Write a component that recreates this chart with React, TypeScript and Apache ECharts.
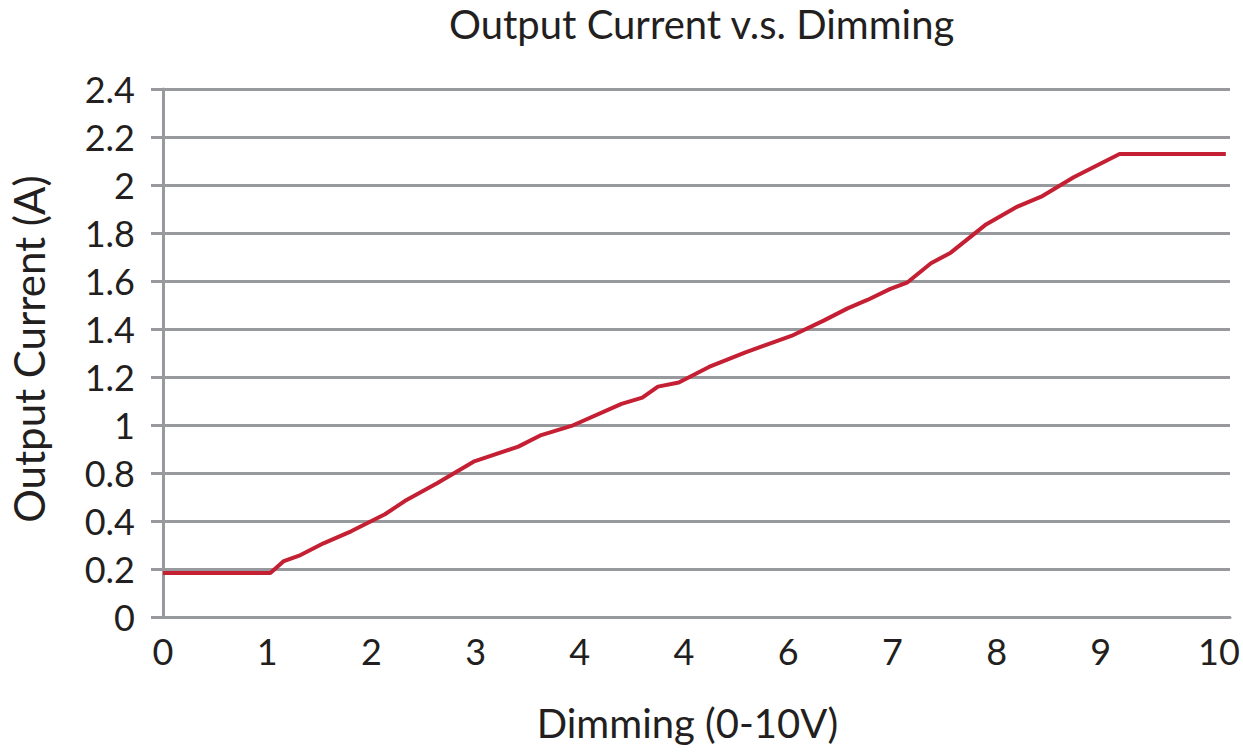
import React, { useEffect, useRef } from "react";
import * as echarts from "echarts";

const titleText = "Output Current v.s. Dimming";
const xAxisTitle = "Dimming (0-10V)";
const yAxisTitle = "Output Current (A)";

// tick labels exactly as printed on the reference
const xTickLabels = ["0", "1", "2", "3", "4", "4", "6", "7", "8", "9", "10"];
const yTickLabels = ["0", "0.2", "0.4", "0.8", "1", "1.2", "1.4", "1.6", "1.8", "2", "2.2", "2.4"];

// dimming voltage (V)
const dimmingV = [
  0, 1.03, 1.16, 1.32, 1.54, 1.81, 2.13, 2.32, 2.63, 2.98, 3.41, 3.63, 3.92,
  4.4, 4.6, 4.75, 4.95, 5.24, 5.59, 6.03, 6.34, 6.57, 6.76, 6.98, 7.14, 7.37,
  7.56, 7.89, 8.2, 8.44, 8.74, 9.18, 10.2,
];
// output current (A)
const currentA = [
  0.383, 0.383, 0.433, 0.458, 0.507, 0.558, 0.628, 0.683, 0.757, 0.847, 0.91,
  0.958, 0.996, 1.088, 1.114, 1.16, 1.177, 1.242, 1.303, 1.371, 1.435, 1.486,
  1.521, 1.567, 1.593, 1.674, 1.718, 1.833, 1.91, 1.954, 2.032, 2.129, 2.129,
];

const GRAY = "#98999d";
const RED = "#c41f33";
const TEXT = "#231f20";
const FONT = "Lato";
const W = 400;

export default function App() {
  const ref = useRef<HTMLDivElement>(null);
  useEffect(() => {
    document.body.style.margin = "0";
    if (!ref.current) return;
    const chart = echarts.init(ref.current, null, { renderer: "svg" });
    chart.setOption({
      animation: false,
      backgroundColor: "#ffffff",
      title: {
        text: titleText,
        left: 449,
        top: 4,
        padding: 0,
        textStyle: { fontFamily: FONT, fontSize: 40, fontWeight: W, color: TEXT },
      },
      grid: { left: 161, top: 89, width: 1069, height: 528, containLabel: false },
      xAxis: {
        type: "value",
        min: 0,
        max: 10.24,
        interval: 1,
        name: xAxisTitle,
        nameLocation: "middle",
        nameGap: 86,
        nameTextStyle: { fontFamily: FONT, fontSize: 40, fontWeight: W, color: TEXT, padding: [0, 18, 0, 0] },
        axisLine: { show: true, lineStyle: { color: GRAY, width: 3 } },
        axisTick: { show: false },
        splitLine: { show: false },
        axisLabel: {
          margin: 16,
          fontFamily: FONT,
          fontSize: 36,
          fontWeight: W,
          color: TEXT,
          showMaxLabel: true,
          formatter: (v: number) => {
            if (Math.abs(v - Math.round(v)) > 1e-6) return "";
            const i = Math.round(v);
            const s = xTickLabels[i] ?? "";
            if (i === xTickLabels.length - 1) return "{s|" + s + "}";
            return s;
          },
          rich: {
            s: { fontFamily: FONT, fontSize: 36, fontWeight: W, color: TEXT, padding: [0, 0, 0, 28] },
          },
        },
      },
      yAxis: {
        type: "value",
        min: 0.2,
        max: 2.4,
        interval: 0.2,
        name: yAxisTitle,
        nameLocation: "middle",
        nameGap: 113,
        nameTextStyle: { fontFamily: FONT, fontSize: 42, fontWeight: W, color: TEXT, padding: [0, 0, 0, 8] },
        axisLine: { show: true, lineStyle: { color: GRAY, width: 3 } },
        axisTick: { show: true, length: 12, lineStyle: { color: GRAY, width: 3 } },
        splitLine: { show: true, lineStyle: { color: GRAY, width: 3 } },
        axisLabel: {
          margin: 28,
          fontFamily: FONT,
          fontSize: 36,
          fontWeight: W,
          color: TEXT,
          formatter: (v: number) => yTickLabels[Math.round((v - 0.2) / 0.2)] ?? "",
        },
      },
      series: [
        {
          type: "line",
          data: dimmingV.map((x, i) => [x, currentA[i]]),
          showSymbol: false,
          symbol: "none",
          lineStyle: { color: RED, width: 4 },
          clip: false,
        },
      ],
    });
    return () => chart.dispose();
  }, []);
  return <div ref={ref} style={{ width: 1243, height: 755 }} />;
}
